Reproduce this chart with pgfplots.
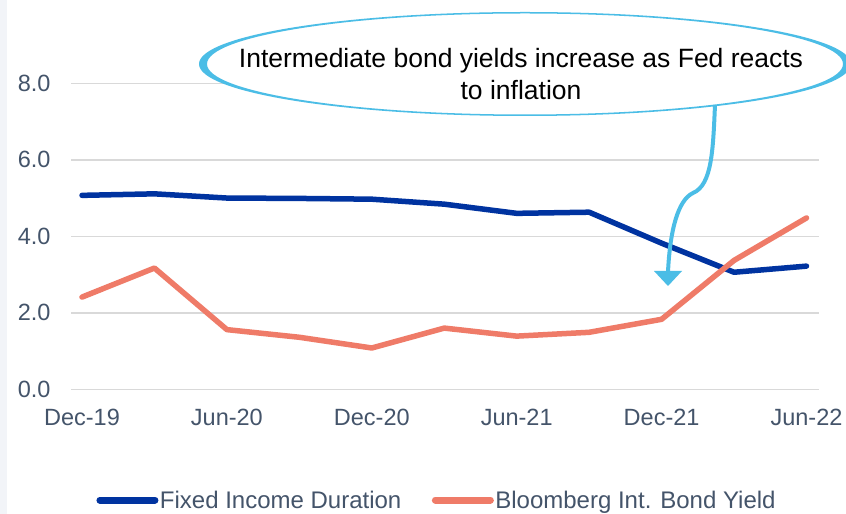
\documentclass[border=0pt]{standalone}
\usepackage{pgfplots}
\pgfplotsset{compat=1.18}
\usepackage{fontspec}
\setmainfont{Liberation Sans}
\definecolor{navy}{HTML}{0033A0}
\definecolor{salmon}{HTML}{EF7B68}
\definecolor{slate}{HTML}{44546A}
\definecolor{callout}{HTML}{4BBDE6}
\definecolor{gridc}{HTML}{D9D9D9}
\definecolor{strip}{HTML}{F2F4F8}
\pgfplotstableread{
x dur yld
0 5.07 2.41
1 5.11 3.17
2 5.00 1.56
3 4.99 1.36
4 4.97 1.08
5 4.84 1.60
6 4.60 1.39
7 4.63 1.49
8 3.82 1.83
9 3.06 3.37
10 3.22 4.48
}\datatable
\begin{document}
\begin{tikzpicture}[x=1pt,y=1pt]
\useasboundingbox (0,0) rectangle (846,514);
\fill[white] (0,0) rectangle (846,514);
\fill[strip] (0,0) rectangle (7,514);
\begin{axis}[
  at={(82pt,124.7pt)}, anchor=origin,
  x=72.45pt, y=38.25pt,
  xmin=-0.15, xmax=10.17, ymin=0, ymax=8,
  axis line style={draw=none},
  tick style={draw=none},
  ymajorgrids, major grid style={gridc, line width=1.5pt},
  ytick={0,2,4,6,8},
  xtick={0,2,4,6,8,10},
  xticklabels={Dec-19,Jun-20,Dec-20,Jun-21,Dec-21,Jun-22},
  ticklabel style={font=\fontsize{23.5}{28}\selectfont, text=slate, inner sep=0pt},
  yticklabel style={anchor=east, xshift=-20.5pt, /pgf/number format/.cd, fixed, fixed zerofill, precision=1, assume math mode=true},
  xticklabel style={anchor=north, yshift=-20pt},
  clip=false,
  legend columns=2,
  legend style={at={(rel axis cs:0.489,-0.362)}, anchor=center, draw=none, fill=none,
    font=\fontsize{24}{28}\selectfont, text=slate, inner sep=0pt,
    nodes={inner sep=1.5pt},
    /tikz/every even column/.append style={column sep=29pt}},
  legend image code/.code={\draw[#1, line width=7pt] (0pt,0pt) -- (55pt,0pt);},
]
\addplot[navy, line width=5.5pt, line join=round, line cap=round] table[x=x,y=dur] {\datatable};
\addlegendentry{Fixed Income Duration}
\addplot[salmon, line width=5.5pt, line join=round, line cap=round] table[x=x,y=yld] {\datatable};
\addlegendentry{Bloomberg Int. Bond Yield}
\end{axis}
% callout
\fill[white] (525,450) ellipse [x radius=320, y radius=51];
\fill[callout, even odd rule] (525,450) ellipse [x radius=326, y radius=52]
  (525,450) ellipse [x radius=318, y radius=50.5];
\node[align=center, font=\fontsize{26.5}{32}\selectfont, text=black] at (521,440)
  {Intermediate bond yields increase as Fed reacts\\to inflation};
\draw[callout, line width=4pt] (715,409) .. controls (713,364) and (712,329) .. (693,321)
  .. controls (678,314) and (670,284) .. (668,242);
\fill[callout] (654,243) -- (682,243) -- (668,228) -- cycle;
\end{tikzpicture}
\end{document}
